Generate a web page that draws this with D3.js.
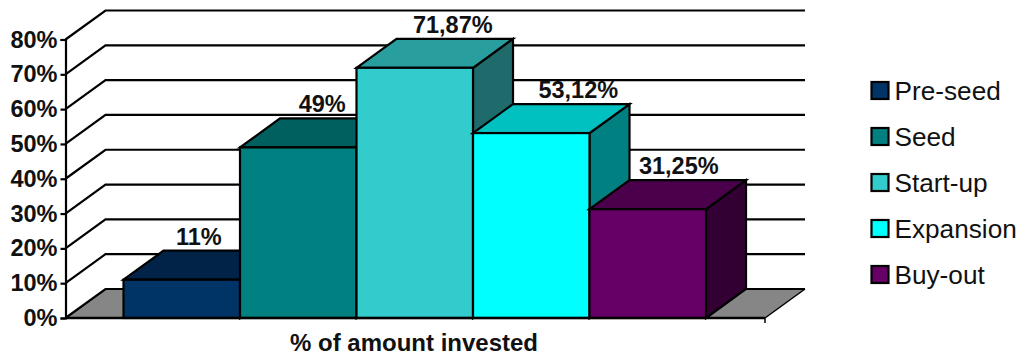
<!DOCTYPE html>
<html><head><meta charset="utf-8">
<script src="https://cdnjs.cloudflare.com/ajax/libs/d3/7.8.5/d3.min.js"></script>
<style>html,body{margin:0;padding:0;background:#fff}svg{display:block}text{font-family:"Liberation Sans",Arial,sans-serif;fill:#111}</style>
</head><body><svg id="c" width="1021" height="358"></svg>
<script>
const categories = ["Pre-seed","Seed","Start-up","Expansion","Buy-out"];
const values = [11,49,71.87,53.12,31.25];
const valueLabels = ["11%","49%","71,87%","53,12%","31,25%"];
const yTicks = [0,10,20,30,40,50,60,70,80];
const axisTitle = "% of amount invested";
const frontColors = ["#003366","#008080","#33CCCC","#00FFFF","#660066"];
const topColors = ["#002347","#005F5F","#289E9E","#00C0C0","#4A004A"];
const sideColors = ["#001A33","#1C6464","#1F6B6B","#008080","#330033"];
const labelShift = [17,24,38,47,31];

const svg = d3.select("#c");
const DX = 40, DY = -29;
const y = d3.scaleLinear().domain([0,80]).range([318,39.5]);
const x = d3.scaleBand().domain(categories).range([123.5,706]);
const L = 65.5, R = 765;
const poly = p => p.map(d=>d.join(",")).join(" ");

svg.append("polygon").attr("points",poly([[L,y(0)],[L+DX,y(0)+DY],[R+DX,y(0)+DY],[R,y(0)]])).attr("fill","#868686");

const grid = svg.append("g").attr("fill","none").attr("stroke","#000").attr("stroke-width",2.2);
grid.selectAll("polyline").data(yTicks).join("polyline")
  .attr("points",d=>poly([[L,y(d)],[L+DX,y(d)+DY],[R+DX,y(d)+DY]]));
svg.append("line").attr("x1",R).attr("x2",R+DX).attr("y1",y(0)).attr("y2",y(0)+DY).attr("stroke","#000").attr("stroke-width",1.5);

const axis = d3.axisLeft(y).tickValues(yTicks).tickSize(5).tickPadding(3).tickFormat(d=>d+"%");
const gy = svg.append("g").attr("transform",`translate(${L},0)`).call(axis);
gy.selectAll("path,line").attr("stroke","#000").attr("stroke-width",2.2);
gy.selectAll("text").attr("font-size",23.5).attr("font-weight","bold").attr("font-family",'"Liberation Sans",Arial,sans-serif').attr("fill","#111");

const bars = svg.append("g").attr("stroke","#000").attr("stroke-width",2.2).attr("stroke-linejoin","miter");
categories.forEach((c,i)=>{
  const x0=x(c), x1=x0+x.bandwidth(), yt=y(values[i]), yb=y(0);
  const g=bars.append("g");
  g.append("polygon").attr("fill",sideColors[i]).attr("points",poly([[x1,yb],[x1+DX,yb+DY],[x1+DX,yt+DY],[x1,yt]]));
  g.append("polygon").attr("fill",topColors[i]).attr("points",poly([[x0,yt],[x0+DX,yt+DY],[x1+DX,yt+DY],[x1,yt]]));
  g.append("rect").attr("fill",frontColors[i]).attr("x",x0).attr("y",yt).attr("width",x1-x0).attr("height",yb-yt);
});

svg.append("line").attr("x1",L).attr("x2",R).attr("y1",y(0)).attr("y2",y(0)).attr("stroke","#000").attr("stroke-width",2.5);
svg.append("line").attr("x1",R).attr("x2",R).attr("y1",y(0)).attr("y2",y(0)+5).attr("stroke","#000").attr("stroke-width",1.5);

svg.append("g").selectAll("text").data(categories).join("text")
  .attr("x",(c,i)=>x(c)+x.bandwidth()/2+labelShift[i])
  .attr("y",(c,i)=>y(values[i])-35)
  .attr("text-anchor","middle").attr("font-size",23.5).attr("font-weight","bold")
  .text((c,i)=>valueLabels[i]);

svg.append("text").attr("x",414).attr("y",351).attr("text-anchor","middle").attr("font-size",24).attr("font-weight","bold").text(axisTitle);

const ly = d3.scalePoint().domain(categories).range([90.5,274.5]);
const lg = svg.append("g").selectAll("g").data(categories).join("g").attr("transform",c=>`translate(0,${ly(c)})`);
lg.append("rect").attr("x",871.5).attr("y",-8.5).attr("width",17).attr("height",17).attr("stroke","#000").attr("stroke-width",2.2).attr("fill",(c,i)=>frontColors[i]);
lg.append("text").attr("x",894.5).attr("y",9.5).attr("font-size",26.2).text(c=>c);
</script></body></html>
